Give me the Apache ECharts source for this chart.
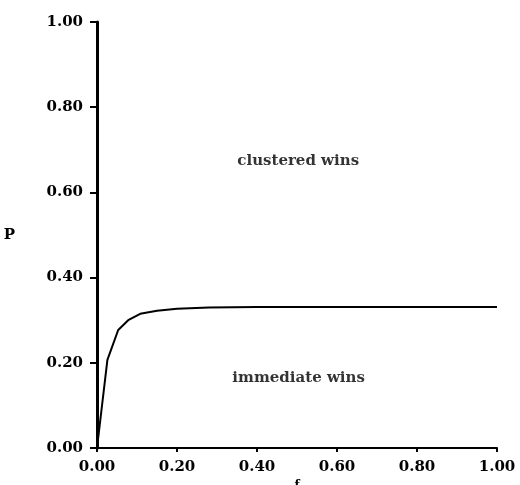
<!DOCTYPE html>
<html>
<head>
<meta charset="utf-8">
<script src="https://cdn.jsdelivr.net/npm/echarts@6/dist/echarts.min.js"></script>
<style>html,body{margin:0;padding:0;background:#fff}#c{width:520px;height:485px}</style>
</head>
<body>
<div id="c"></div>
<script>
var fValues = [0, 0.026, 0.053, 0.078, 0.108, 0.15, 0.2, 0.28, 0.4, 0.6, 0.8, 1.0];
var pValues = [0, 0.207, 0.277, 0.300, 0.315, 0.322, 0.327, 0.330, 0.331, 0.331, 0.331, 0.331];
var tickValues = [0, 0.2, 0.4, 0.6, 0.8, 1.0];
var regionLabels = ['clustered wins', 'immediate wins'];
var regionF = [0.503, 0.504];
var regionP = [0.674, 0.164];

var FONT = 'DejaVu Serif';
var chart = echarts.init(document.getElementById('c'), null, {renderer: 'canvas'});
var curve = fValues.map(function (f, i) { return [f, pValues[i]]; });
var labelsData = regionLabels.map(function (t, i) { return {value: [regionF[i], regionP[i]], name: t}; });
var axisLabel = {color: '#000', fontFamily: FONT, fontWeight: 'bold', fontSize: 15,
  formatter: function (v) { return v.toFixed(2); }};
chart.setOption({
  animation: false,
  backgroundColor: '#fff',
  grid: {left: 97, right: 23, top: 22, bottom: 37, containLabel: false, outerBoundsMode: 'none'},
  xAxis: {
    type: 'value', min: 0, max: 1, interval: 0.2,
    name: 'f', nameLocation: 'middle', nameGap: 28,
    nameTextStyle: {color: '#000', fontFamily: FONT, fontWeight: 'bold', fontSize: 12},
    axisLine: {lineStyle: {color: '#000', width: 2}},
    axisTick: {length: 4, lineStyle: {color: '#000', width: 2}},
    axisLabel: Object.assign({margin: 12}, axisLabel),
    splitLine: {show: false}
  },
  yAxis: {
    type: 'value', min: 0, max: 1, interval: 0.2,
    name: 'P', nameLocation: 'middle', nameGap: 82, nameRotate: 0,
    nameTextStyle: {color: '#000', fontFamily: FONT, fontWeight: 'bold', fontSize: 15},
    axisLine: {lineStyle: {color: '#000', width: 3}},
    axisTick: {length: 7, lineStyle: {color: '#000', width: 2}},
    axisLabel: Object.assign({margin: 14}, axisLabel),
    splitLine: {show: false}
  },
  series: [
    {type: 'line', data: curve, showSymbol: false, smooth: false,
     lineStyle: {color: '#000', width: 2}},
    {type: 'scatter', data: labelsData, symbolSize: 0, silent: true,
     label: {show: true, position: 'inside', formatter: '{b}', color: '#000',
       textBorderWidth: 0, fontFamily: FONT, fontWeight: 'bold', fontSize: 15}}
  ]
});
</script>
</body>
</html>
